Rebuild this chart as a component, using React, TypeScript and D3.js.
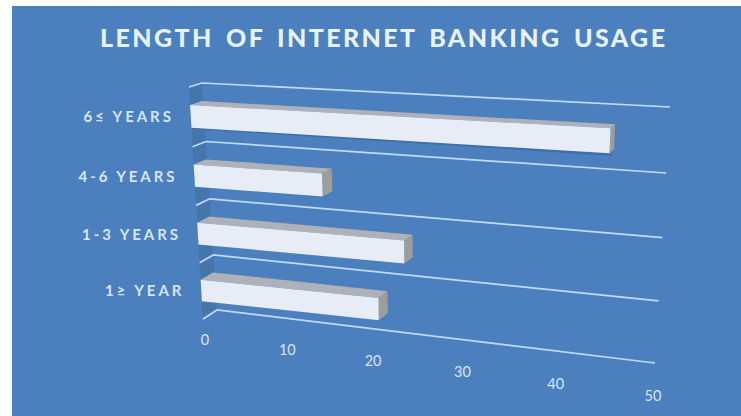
import React from "react";
import * as d3 from "d3";

const categories = ["6≤ YEARS", "4-6 YEARS", "1-3 YEARS", "1≥ YEAR"];
const usage = [44.8, 14.8, 23.8, 20.9];
const valueTicks = [0, 10, 20, 30, 40, 50];
const chartTitle = "LENGTH OF INTERNET BANKING USAGE";

const WIDTH = 741;
const HEIGHT = 416;

// Corners of the 3D box the bars stand in: the front plane and the back wall.
type Pt = [number, number];
const frontCorners: Pt[] = [[189, 87], [666, 111], [203, 319], [651, 370]];
const backCorners: Pt[] = [[202, 83], [670, 107], [217, 310], [655, 363]];
const FORESHORTEN_VALUE = 1.11;
const FORESHORTEN_ROW = 0.96;
const BAR_TOP = 0.3;
const BAR_BOTTOM = 0.68;

const valueScale = d3.scaleLinear().domain([0, 50]).range([0, 1]);
const rowScale = d3.scaleLinear().domain([0, categories.length]).range([0, 1]);

const warp = (s: number, k: number) => s / (s + k * (1 - s));

function onQuad(q: Pt[], v: number, row: number): Pt {
  const t = warp(valueScale(v), FORESHORTEN_VALUE);
  const r = warp(rowScale(row), FORESHORTEN_ROW);
  const top = d3.interpolateArray(q[0], q[1])(t) as number[];
  const bottom = d3.interpolateArray(q[2], q[3])(t) as number[];
  return [top[0] + (bottom[0] - top[0]) * r, top[1] + (bottom[1] - top[1]) * r];
}

// depth 0 is the front plane, depth 1 the back wall
function project(v: number, row: number, depth = 0): Pt {
  const a = onQuad(frontCorners, v, row);
  const b = onQuad(backCorners, v, row);
  return [a[0] + (b[0] - a[0]) * depth, a[1] + (b[1] - a[1]) * depth];
}

const poly = d3.line<Pt>().curve(d3.curveLinearClosed);
const open = d3.line<Pt>();

const LABEL_STYLE = { fontFamily: "Lato, 'Open Sans', sans-serif", fill: "#d6e5f6" };

export default function App() {
  const rows = d3.range(categories.length + 1);
  return (
    <svg
      width={WIDTH}
      height={HEIGHT}
      viewBox={`0 0 ${WIDTH} ${HEIGHT}`}
      style={{ position: "absolute", left: 0, top: 0, display: "block", background: "#fff" }}
    >
      <rect x={12} y={6} width={WIDTH - 12} height={HEIGHT - 6} fill="#4c7fbd" />

      <text
        x={100}
        y={47}
        textLength={565}
        lengthAdjust="spacing"
        fontSize={25}
        fontWeight={900}
        style={{ ...LABEL_STYLE, fill: "#e6f2fc", wordSpacing: 4 }}
      >
        {chartTitle}
      </text>

      {/* darker side wall at the zero end */}
      <path
        d={poly([project(0, 0, 0), project(0, 0, 1), project(0, 4, 1), project(0, 4, 0)]) ?? ""}
        fill="#41709f"
        opacity={0.6}
      />

      {/* gridlines: a stub across the side wall, then along the back wall */}
      {rows.map((r) => (
        <path
          key={r}
          d={open([project(0, r, 0), project(0, r, 1), project(50, r, 1)]) ?? ""}
          fill="none"
          stroke="#c0dbf9"
          strokeWidth={1.7}
        />
      ))}

      {categories.map((c, i) => {
        const v = usage[i];
        const lo = i + BAR_TOP;
        const hi = i + BAR_BOTTOM;
        const shadow = [project(0, hi, 0), project(v, hi, 0), project(v, hi + 0.09, 0.7), project(0, hi + 0.09, 0.7)];
        const top = [project(0, lo, 0), project(v, lo, 0), project(v, lo, 0.9), project(0, lo, 0.9)];
        const side = [project(v, lo, 0), project(v, hi, 0), project(v, hi, 0.9), project(v, lo, 0.9)];
        const face = [project(0, lo, 0), project(v, lo, 0), project(v, hi, 0), project(0, hi, 0)];
        const anchor = project(0, i + 0.49, 0);
        return (
          <g key={c}>
            <path d={poly(shadow) ?? ""} fill="#3c6aa6" opacity={0.8} />
            <path d={poly(top) ?? ""} fill="#aeb2b8" />
            <path d={poly(side) ?? ""} fill="#9c9e9c" />
            <path d={poly(face) ?? ""} fill="#e7ecf6" />
            <text
              x={anchor[0] - 17}
              y={anchor[1] + 6}
              textAnchor="end"
              fontSize={15}
              fontWeight={700}
              letterSpacing={2.9}
              style={LABEL_STYLE}
            >
              {c}
            </text>
          </g>
        );
      })}

      {valueTicks.map((t) => {
        const [x, y] = project(t, 4, 0);
        return (
          <text
            key={t}
            x={x + 2}
            y={y + 26 + 5 * valueScale(t)}
            textAnchor="middle"
            fontSize={14.5}
            style={LABEL_STYLE}
          >
            {t}
          </text>
        );
      })}
    </svg>
  );
}
